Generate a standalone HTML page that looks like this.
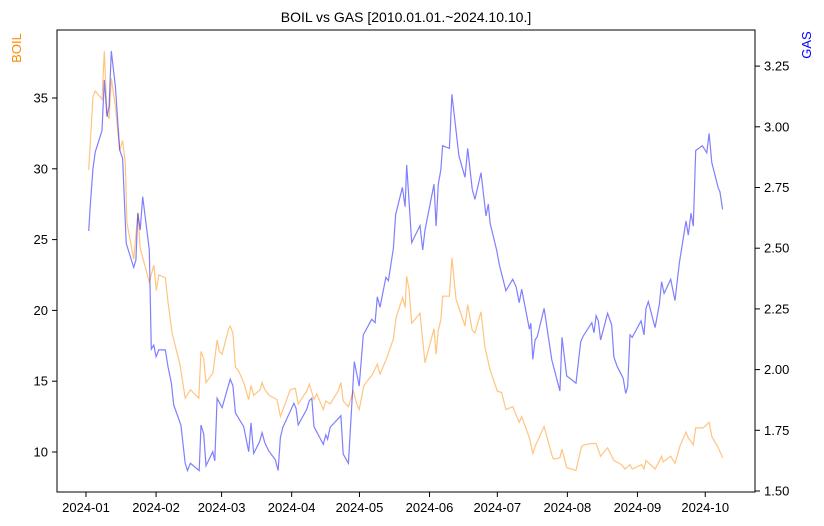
<!DOCTYPE html>
<html><head><meta charset="utf-8"><style>
body{margin:0;background:#fff;}
svg{display:block;font-family:"Liberation Sans","DejaVu Sans",sans-serif;}
</style></head><body>
<svg id="chart" width="824" height="526" viewBox="0 0 824 526" xmlns="http://www.w3.org/2000/svg">
<rect width="824" height="526" fill="#fff"/>
<text x="406" y="22" text-anchor="middle" font-size="14">BOIL vs GAS [2010.01.01.~2024.10.10.]</text>
<text transform="translate(21,48) rotate(-90)" text-anchor="middle" font-size="13" fill="#ff8c00">BOIL</text>
<text transform="translate(811,45) rotate(-90)" text-anchor="middle" font-size="13" fill="#0000ff">GAS</text>
<g id="xaxis"></g><g id="yl"></g><g id="yr"></g>
<path id="boilLine" fill="none" stroke="#ff8c00" stroke-opacity="0.5" stroke-width="1.2"/>
<path id="gasLine" fill="none" stroke="#0000ff" stroke-opacity="0.5" stroke-width="1.2"/>
<rect x="57" y="30" width="698" height="462" fill="none" stroke="#000" stroke-width="1"/>
</svg>
<script>
const monthLabels=["2024-01","2024-02","2024-03","2024-04","2024-05","2024-06","2024-07","2024-08","2024-09","2024-10"];
const monthDays=[0,31,60,91,121,152,182,213,244,274];
const boilTicks=[10,15,20,25,30,35];
const gasTicks=[1.5,1.75,2.0,2.25,2.5,2.75,3.0,3.25];
const boilDays=[1.2,3.1,4.1,7.1,8.1,9.3,10.2,11.2,13,14.9,16.2,17.4,18.1,21.1,23,24,28,30,31.1,32.2,35.1,36.3,38.1,41.7,43.9,46.2,49.9,50.9,52.1,53.1,56.2,58,59,60.2,63.1,63.8,65,66.1,67.6,69.8,72,73,74.2,77.1,77.9,79.1,81.1,84.5,86,90.4,92.6,93.9,97.7,98.8,100.9,102.1,105,106.1,108,111.6,112.8,113.8,116.1,118.3,119.8,120.9,122,123,126.4,128.9,130.1,133,136,137.2,140.1,141.2,141.9,142.9,144.1,147.8,150,154,154.9,155.9,157,157.8,160.8,161.9,163.7,167.7,168.9,170.9,172.1,174.8,176.5,178.8,182,183.9,185.8,188.8,191.7,192.8,196.2,197.7,198.7,202.7,206.1,206.8,209.7,210.6,212.7,216.8,219.3,220.4,223.8,225.7,227.7,230.8,233.6,237,238.5,240.7,241.7,245.9,246.9,247.8,251.8,253.2,254.7,255.4,258.7,260.6,262.8,265.5,266.5,268.7,269.8,273.1,275.7,276.9,279.8,281.7];
const boilVals=[29.9,35.1,35.5,34.9,38.3,33.9,33.5,36.4,34.4,31.3,32.0,30.4,26.2,23.6,26.9,24.4,22.0,23.2,21.4,22.5,22.3,20.6,18.4,16.1,13.8,14.4,13.8,17.1,16.6,14.9,15.6,17.9,17.1,16.9,18.7,18.9,18.4,16.0,15.7,14.9,13.7,14.7,14.0,14.4,14.9,14.4,14.0,13.7,12.5,14.4,14.5,13.4,14.3,14.8,13.7,14.1,13.0,13.6,13.4,14.3,14.9,13.6,13.2,14.3,13.4,13.0,13.9,14.7,15.4,16.2,15.5,16.6,18.0,19.5,20.9,20.2,22.4,21.5,19.1,19.8,16.3,18.7,16.9,18.6,19.3,21.0,21.0,23.7,20.8,18.9,20.4,18.6,18.4,19.9,17.4,15.8,14.3,14.2,13.0,13.2,12.1,12.5,11.0,9.9,10.4,11.8,9.8,9.5,9.6,10.2,8.9,8.7,10.4,10.5,10.6,10.6,9.7,10.3,9.4,9.1,8.8,9.1,8.8,9.1,8.8,9.4,8.8,9.2,9.7,9.3,9.7,9.2,10.4,11.4,11.0,10.5,11.7,11.7,12.1,11.1,10.3,9.6];
const gasDays=[1.2,1.9,3.1,4.1,7.1,8.1,9.3,10.2,11.2,13,14.9,16.2,17.8,21.1,22.1,22.9,24,25.1,28,28.9,30,31,32.2,35.1,36.3,37.8,38.8,42,43.9,44.9,46.2,50.1,50.9,52.1,53.1,56.1,57,58,60.2,63.8,65,66.1,69.8,72,73,74.2,76.8,77.9,79.1,80.8,83.8,85,86,87.1,92,92.9,93.9,97.7,98.8,99.9,100.9,105,106.1,106.9,108,112.8,113.8,116.1,118.7,120.9,122.7,126.4,127.9,128.9,130.1,132.7,133.8,136,137,140,141.2,141.9,144.1,147.8,149,150,154,154.9,155.9,157,157.8,160.8,161.9,165,167.7,168.9,170.9,172.1,174.8,177,178,178.8,181.7,182.9,185.8,188.8,190.3,191.7,192.8,196.2,196.8,197.7,198.7,199.7,202.7,206.1,209.7,210.6,212.7,216.8,218.9,220,223.8,224.8,225.7,226.7,227.7,230.8,232.6,233.6,235.1,237.7,238.8,239.7,240.7,241.7,245.6,246.9,247.8,248.8,251.8,253.7,254.7,255.8,258.7,260.6,262.5,265.5,266.5,267.7,268.7,269.8,272.7,274.7,275.7,276.9,279.8,280.5,281.7];
const gasVals=[2.571,2.678,2.829,2.897,2.984,3.193,3.042,3.083,3.312,3.165,2.904,2.870,2.520,2.421,2.451,2.644,2.575,2.712,2.493,2.084,2.101,2.053,2.081,2.081,2.012,1.944,1.854,1.772,1.614,1.584,1.614,1.584,1.772,1.735,1.604,1.662,1.624,1.882,1.843,1.961,1.934,1.822,1.765,1.662,1.781,1.655,1.703,1.740,1.699,1.666,1.628,1.584,1.721,1.762,1.861,1.841,1.772,1.837,1.872,1.882,1.765,1.692,1.731,1.713,1.762,1.810,1.652,1.614,2.033,1.932,2.143,2.207,2.193,2.300,2.257,2.380,2.366,2.500,2.637,2.751,2.671,2.843,2.523,2.593,2.493,2.575,2.763,2.591,2.763,2.822,2.922,2.911,3.134,2.881,2.792,2.911,2.744,2.701,2.811,2.633,2.682,2.603,2.493,2.431,2.325,2.372,2.341,2.276,2.331,2.166,2.191,2.042,2.122,2.136,2.252,2.040,1.912,2.133,1.974,1.944,2.115,2.138,2.193,2.152,2.222,2.201,2.122,2.232,2.184,2.051,2.012,1.964,1.902,1.930,2.143,2.133,2.201,2.143,2.252,2.280,2.173,2.270,2.362,2.314,2.372,2.284,2.438,2.612,2.554,2.644,2.591,2.902,2.922,2.893,2.973,2.852,2.747,2.733,2.660];

const NS="http://www.w3.org/2000/svg";
const xS=d=>86+d*2.26;
const yL=v=>452-(v-10)*14.16;
const yR=v=>491-(v-1.5)*242.8;
function mk(tag,attrs,parent){const e=document.createElementNS(NS,tag);for(const k in attrs)e.setAttribute(k,attrs[k]);parent.appendChild(e);return e;}
const xa=document.getElementById('xaxis');
monthDays.forEach((d,i)=>{const x=xS(d);
 const t=mk('line',{x1:x,x2:x,y1:492,y2:497,stroke:'#000'},xa);
 
 
 const l=mk('text',{x:x,y:512,'text-anchor':'middle','font-size':13},xa);l.textContent=monthLabels[i];
 
 
});
const yl=document.getElementById('yl');
boilTicks.forEach(v=>{const y=yL(v);
 const t=mk('line',{x1:52,x2:57,y1:y,y2:y,stroke:'#000'},yl);
 
 
 const l=mk('text',{x:48,y:y+4.5,'text-anchor':'end','font-size':13},yl);l.textContent=v;
 
 
});
const yr=document.getElementById('yr');
gasTicks.forEach(v=>{const y=yR(v);
 const t=mk('line',{x1:755,x2:760,y1:y,y2:y,stroke:'#000'},yr);
 
 
 const l=mk('text',{x:764,y:y+4.5,'text-anchor':'start','font-size':13},yr);l.textContent=v.toFixed(2);
 
 
});
document.getElementById('boilLine').setAttribute('d',boilDays.map((d,i)=>(i?'L':'M')+xS(d).toFixed(1)+','+yL(boilVals[i]).toFixed(1)).join(''));
document.getElementById('gasLine').setAttribute('d',gasDays.map((d,i)=>(i?'L':'M')+xS(d).toFixed(1)+','+yR(gasVals[i]).toFixed(1)).join(''));
</script>
</body></html>
